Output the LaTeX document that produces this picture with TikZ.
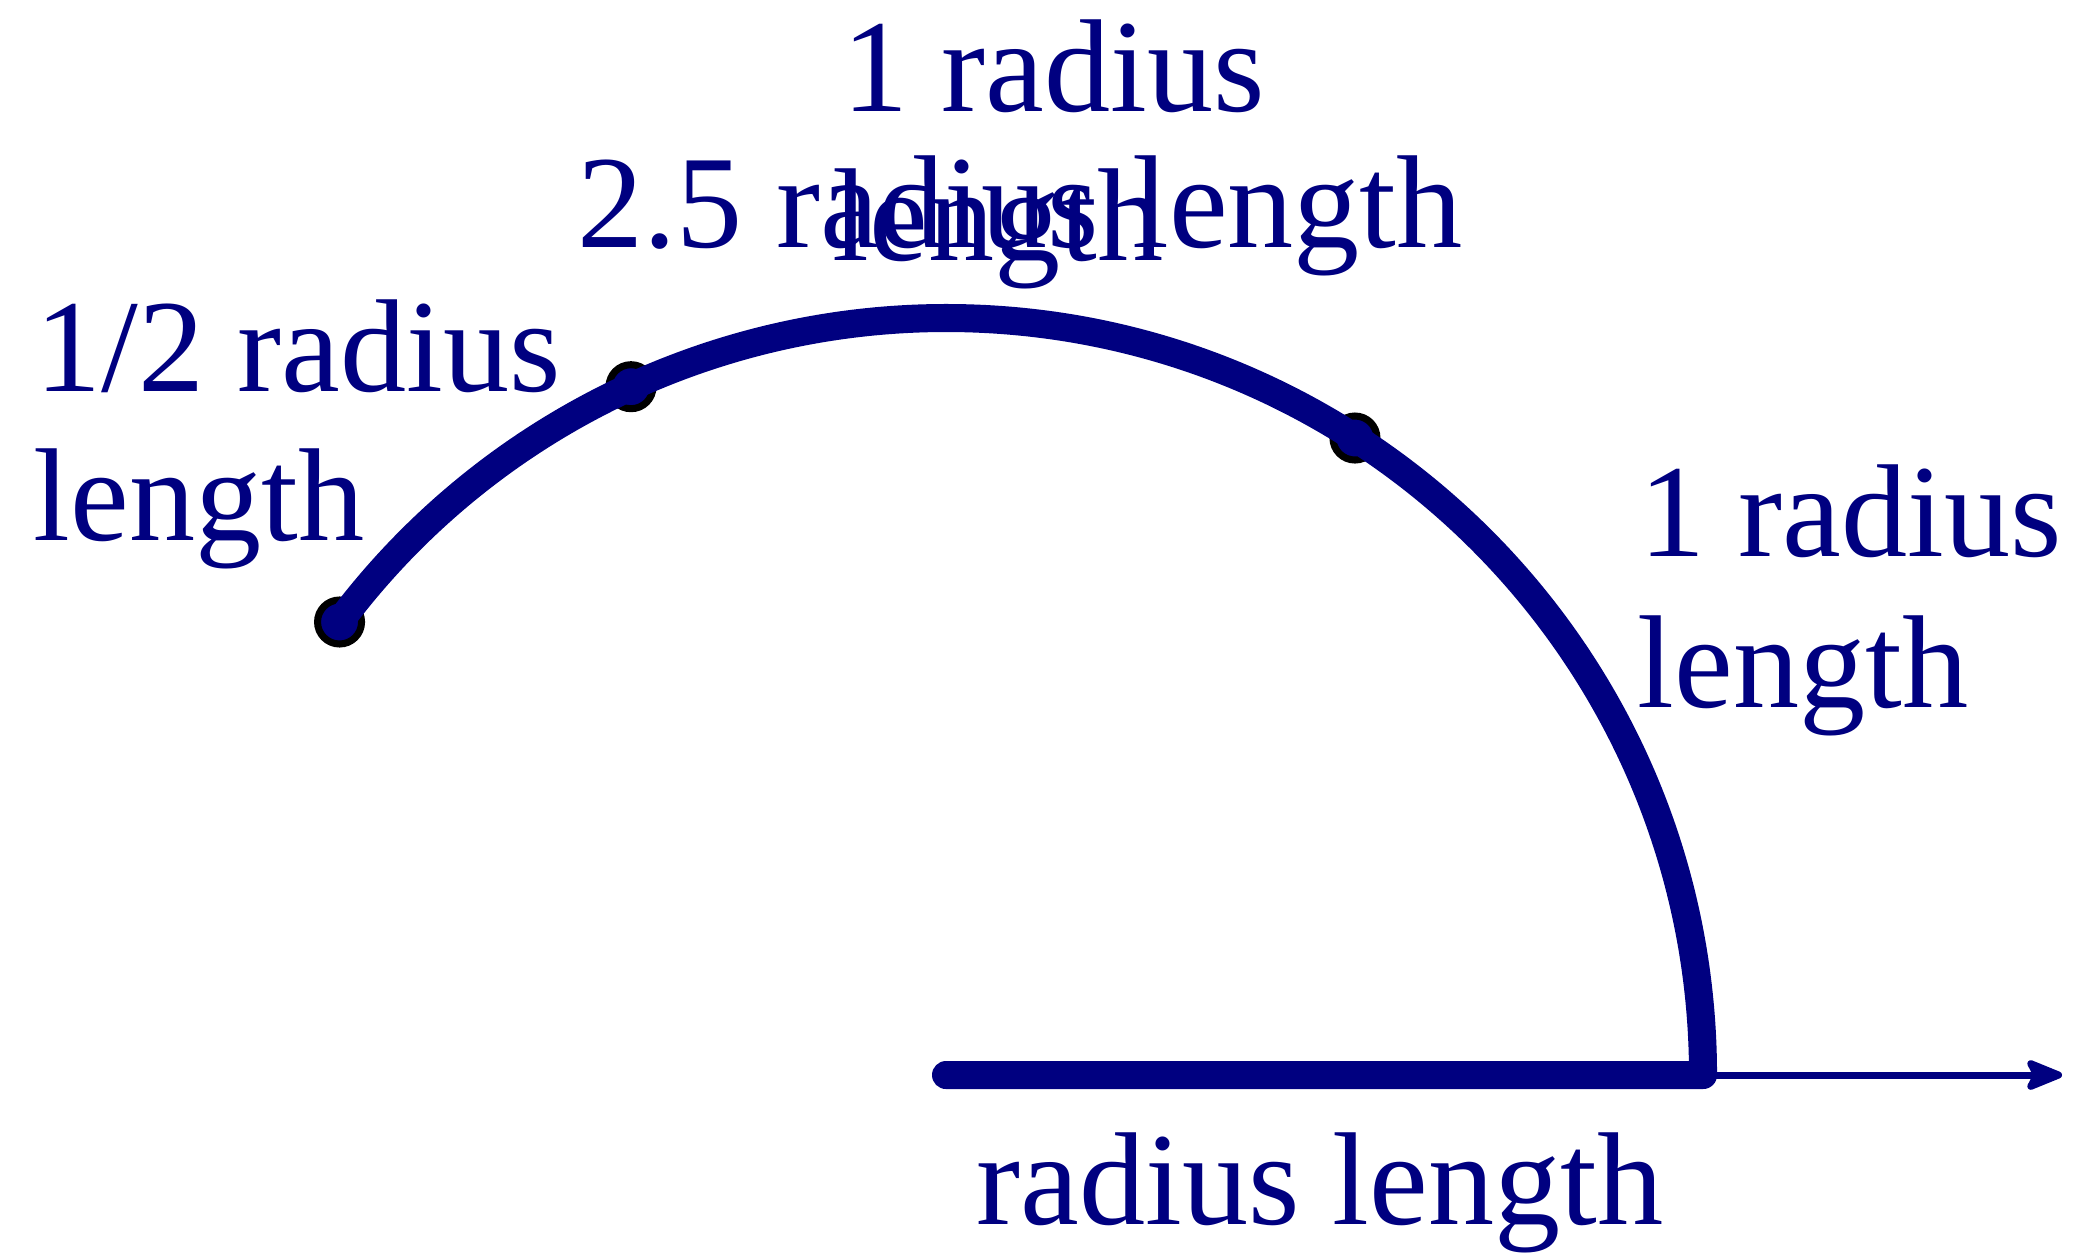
\documentclass[tikz,border=0pt]{standalone}
\usepackage{fontspec}
\setmainfont{Liberation Serif}
\usetikzlibrary{arrows.meta,calc}
\definecolor{navyb}{RGB}{0,0,128}
\begin{document}
\begin{tikzpicture}[x=0.01cm,y=0.01cm,
  lbl/.style={inner sep=0pt,anchor=base west,text=navyb,font=\fontsize{37.6}{43}\selectfont},
  dotmark/.style={circle,draw=black,fill=navyb,line width=2pt,minimum size=0.44cm,inner sep=0pt},
  thickline/.style={draw=navyb,line width=7.97pt,line cap=round,line join=round},
  thinarrow/.style={draw=navyb,line width=2pt,-{Stealth[length=12.5pt,width=10pt,inset=2.5pt,round]}}]
\useasboundingbox (0,0) rectangle (2092,1253);
\coordinate (C) at (946,178);
\coordinate (R) at (1703,178);
\coordinate (E) at (2062,178);
% dots
\node[dotmark] (d25) at ($(C)+(143.24:757)$) {};
\node[dotmark] (d2) at ($(C)+(114.59:757)$) {};
\node[dotmark] (d1) at ($(C)+(57.30:757)$) {};
% radius line and arc
\draw[thickline] (C) -- (R) arc[start angle=0,end angle=143.24,radius=757];
% axis arrow
\draw[thinarrow] (R) -- (E);
% labels
\node[lbl] (h1) at (35,862) {1/2 radius};
\node[lbl] (h2) at (33,713) {length};
\node[lbl] (t1) at (842,1142) {1 radius};
\node[lbl] (t2) at (832,993) {length};
\node[lbl] (m) at (577,1006) {2.5 radius length};
\node[lbl] (r1) at (1639,697) {1 radius};
\node[lbl] (r2) at (1637,546) {length};
\node[lbl] (b) at (976,29) {radius length};
\end{tikzpicture}
\end{document}
